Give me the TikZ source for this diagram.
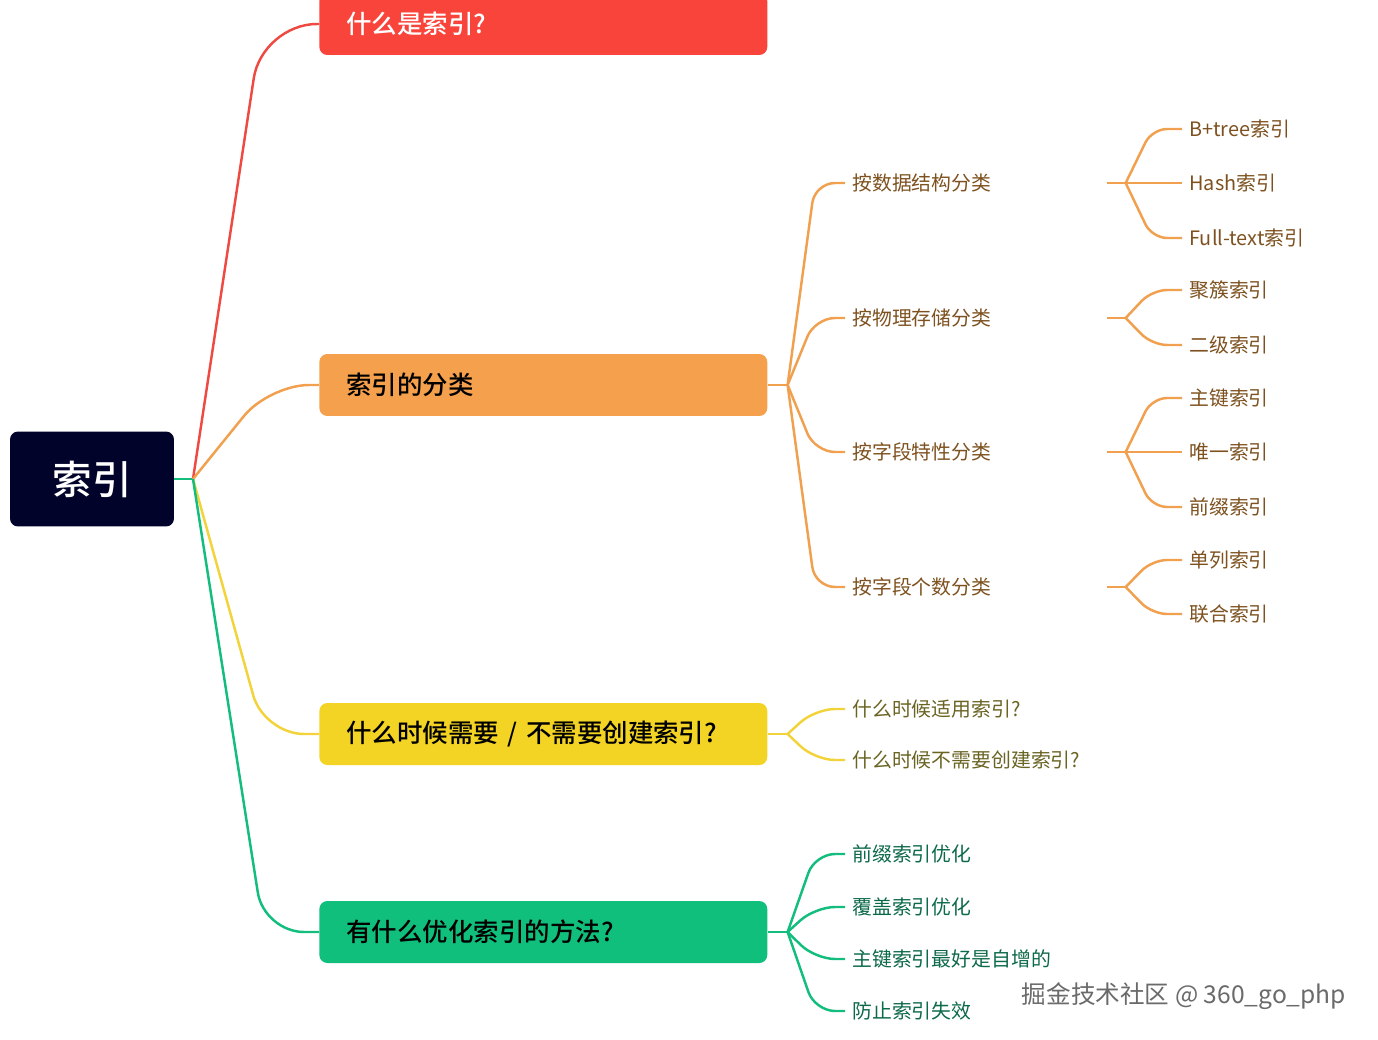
\documentclass[tikz,border=0pt]{standalone}
\usepackage{fontspec}
\setmainfont{Noto Sans CJK SC}
\newfontfamily\medfont{Noto Sans CJK SC Medium}
\usetikzlibrary{calc, positioning}

\definecolor{rootbg}{HTML}{02032A}
\definecolor{redbr}{HTML}{F9443B}
\definecolor{orangebr}{HTML}{F4A04C}
\definecolor{yellowbr}{HTML}{F3D424}
\definecolor{greenbr}{HTML}{10BF7C}
\definecolor{redln}{HTML}{EE4A42}
\definecolor{orangeln}{HTML}{F0A04E}
\definecolor{yellowln}{HTML}{F2D43A}
\definecolor{greenln}{HTML}{12BD7E}
\definecolor{orangetxt}{HTML}{7E5220}
\definecolor{yellowtxt}{HTML}{6A6423}
\definecolor{greentxt}{HTML}{0D6A48}
\definecolor{marktxt}{HTML}{6A6A6A}

\begin{document}
\begin{tikzpicture}[x=0.02cm, y=-0.02cm,
        root/.style={rectangle, fill=rootbg, rounded corners=0.16cm, minimum width=3.28cm, minimum height=1.9cm, text=white, font=\medfont\fontsize{22.5}{26}\selectfont},
        branch/.style={rectangle, rounded corners=0.16cm, anchor=west, text width=7.88cm, inner xsep=0.54cm, minimum height=1.24cm, align=left, font=\medfont\fontsize{14.5}{17}\selectfont},
        leaf/.style={anchor=west, inner xsep=0.14cm, inner ysep=0pt, align=left, font=\fontsize{11.3}{13}\selectfont},
        cat/.style={leaf, text width=4.94cm, text=orangetxt},
        link/.style={line width=1.4pt, rounded corners=0.4cm}
    ]
        \path[use as bounding box, fill=white] (0,0) rectangle (1378,1040);

        % root and main branches
        \node[root] (idx) at (92,479) {索引};
        \coordinate (hub) at (193,479);

        \node[branch, fill=redbr, text=white] (what) at (319,24) {什么是索引?};
        \node[branch, fill=orangebr] (cls) at (319,385) {索引的分类};
        \node[branch, fill=yellowbr] (when) at (319,734) {什么时候需要 / 不需要创建索引?};
        \node[branch, fill=greenbr] (opt) at (319,932) {有什么优化索引的方法?};

        \draw[link, greenln] (idx.east) -- (hub);
        \draw[link, redln, rounded corners=1.1cm] (hub) -- ($(what.west)+(-57,0)$) -- (what.west);
        \draw[link, orangeln, rounded corners=0.8cm] (hub) -- ($(cls.west)+(-50,0)$) -- (cls.west);
        \draw[link, yellowln, rounded corners=0.8cm] (hub) -- ($(when.west)+(-55,0)$) -- (when.west);
        \draw[link, greenln, rounded corners=0.8cm] (hub) -- ($(opt.west)+(-55,0)$) -- (opt.west);

        % classification
        \node[cat] (bystruct) at (845,183) {按数据结构分类};
        \node[cat] (bystore) at (845,318) {按物理存储分类};
        \node[cat] (byprop) at (845,452) {按字段特性分类};
        \node[cat] (bycount) at (845,587) {按字段个数分类};

        \coordinate (clshub) at ($(cls.east)+(20,0)$);
        \draw[link, orangeln] (cls.east) -- (clshub);
        \foreach \c in {bystruct, bystore, byprop, bycount}
            \draw[link, orangeln] (clshub) -- ($(\c.west)+(-30,0)$) -- (\c.west);

        \node[leaf, text=orangetxt] (btree) at (1182,129) {B+tree索引};
        \node[leaf, text=orangetxt] (hash) at (1182,183) {Hash索引};
        \node[leaf, text=orangetxt] (fulltext) at (1182,238) {Full-text索引};
        \node[leaf, text=orangetxt] (cluster) at (1182,290) {聚簇索引};
        \node[leaf, text=orangetxt] (second) at (1182,345) {二级索引};
        \node[leaf, text=orangetxt] (primary) at (1182,398) {主键索引};
        \node[leaf, text=orangetxt] (unique) at (1182,452) {唯一索引};
        \node[leaf, text=orangetxt] (prefix) at (1182,507) {前缀索引};
        \node[leaf, text=orangetxt] (single) at (1182,560) {单列索引};
        \node[leaf, text=orangetxt] (union) at (1182,614) {联合索引};

        \foreach \p/\kids in {bystruct/{btree,hash,fulltext}, bystore/{cluster,second}, byprop/{primary,unique,prefix}, bycount/{single,union}} {
            \coordinate (\p hub) at ($(\p.east)+(19,0)$);
            \draw[link, orangeln] (\p.east) -- (\p hub);
            \foreach \k in \kids
                \draw[link, orangeln, rounded corners=0.3cm] (\p hub) -- ($(\k.west)+(-30,0)$) -- (\k.west);
        }

        % when
        \node[leaf, text=yellowtxt] (fit) at (845,709) {什么时候适用索引?};
        \node[leaf, text=yellowtxt] (nofit) at (845,760) {什么时候不需要创建索引?};
        \coordinate (whenhub) at ($(when.east)+(20,0)$);
        \draw[link, yellowln] (when.east) -- (whenhub);
        \foreach \c in {fit, nofit}
            \draw[link, yellowln] (whenhub) -- ($(\c.west)+(-30,0)$) -- (\c.west);

        % optimisation
        \node[leaf, text=greentxt] (preopt) at (845,854) {前缀索引优化};
        \node[leaf, text=greentxt] (covopt) at (845,907) {覆盖索引优化};
        \node[leaf, text=greentxt] (autoinc) at (845,959) {主键索引最好是自增的};
        \node[leaf, text=greentxt] (nofail) at (845,1011) {防止索引失效};
        \coordinate (opthub) at ($(opt.east)+(20,0)$);
        \draw[link, greenln] (opt.east) -- (opthub);
        \foreach \c in {preopt, covopt, autoinc, nofail}
            \draw[link, greenln] (opthub) -- ($(\c.west)+(-30,0)$) -- (\c.west);

        \node[text=marktxt, font=\fontsize{14}{16}\selectfont] (mark) at (1184,996) {掘金技术社区 @ 360\_go\_php};
    \end{tikzpicture}
\end{document}
